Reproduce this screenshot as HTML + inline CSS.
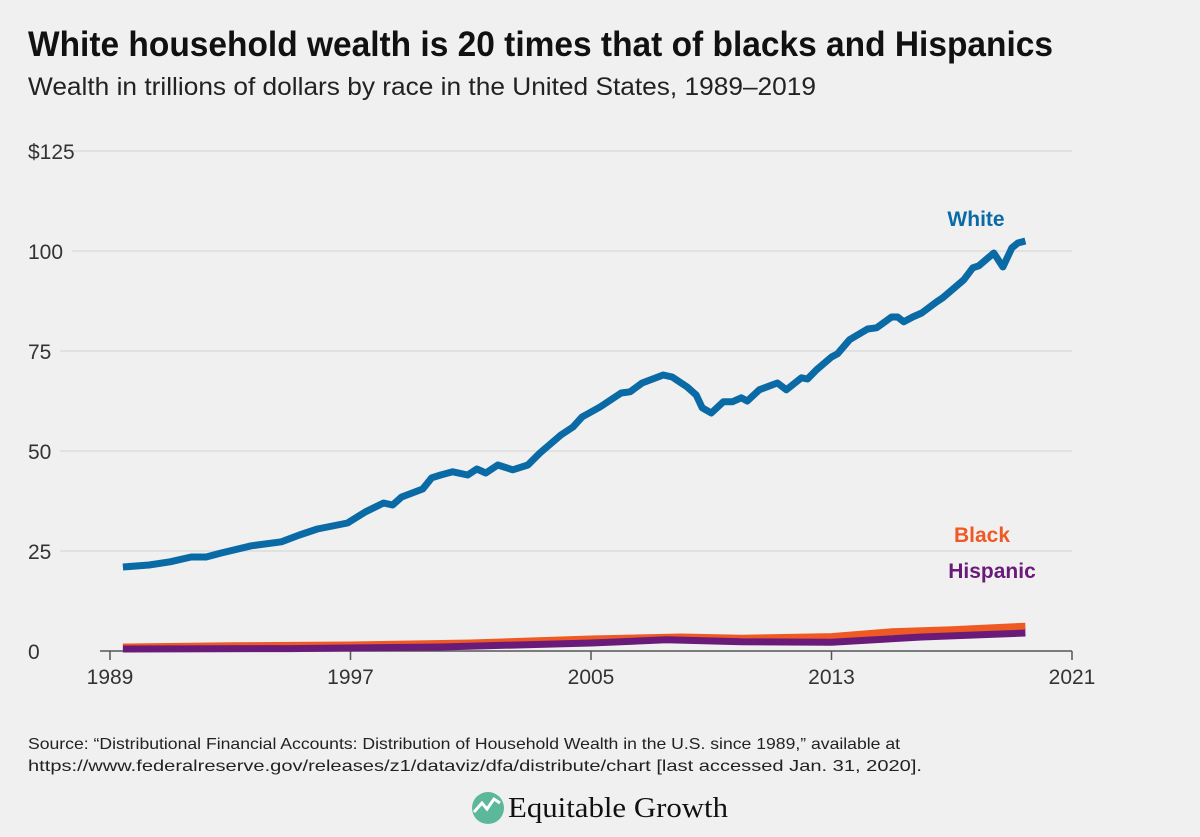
<!DOCTYPE html>
<html><head><meta charset="utf-8"><style>
html,body{margin:0;padding:0;background:#f0f0f0;}
svg{display:block;font-family:"Liberation Sans",sans-serif;}
</style></head><body>
<svg id="chart" width="1200" height="837" viewBox="0 0 1200 837">
<rect width="1200" height="837" fill="#f0f0f0"/>
<text x="28" y="56" font-size="35" font-weight="bold" fill="#111" textLength="1025" lengthAdjust="spacingAndGlyphs">White household wealth is 20 times that of blacks and Hispanics</text>
<text x="28" y="95" font-size="25" fill="#222" textLength="788" lengthAdjust="spacingAndGlyphs">Wealth in trillions of dollars by race in the United States, 1989–2019</text>
<g id="grid"></g>
<g id="series"></g>
<text x="976" y="226" font-size="21" font-weight="bold" fill="#0a6aa6" text-anchor="middle">White</text>
<text x="982" y="542" font-size="21" font-weight="bold" fill="#ef5a24" text-anchor="middle">Black</text>
<text x="992" y="578" font-size="21" font-weight="bold" fill="#6a1b7a" text-anchor="middle">Hispanic</text>
<text x="28" y="749" font-size="16" fill="#222" textLength="872" lengthAdjust="spacingAndGlyphs">Source: “Distributional Financial Accounts: Distribution of Household Wealth in the U.S. since 1989,” available at</text>
<text x="28" y="771" font-size="16" fill="#222" textLength="894" lengthAdjust="spacingAndGlyphs">https://www.federalreserve.gov/releases/z1/dataviz/dfa/distribute/chart [last accessed Jan. 31, 2020].</text>
<g>
<circle cx="488" cy="808" r="16" fill="#5cb89a"/>
<path d="M474 812 L482 803 L487 809 L494 799 L500 803" stroke="#fff" stroke-width="3" fill="none"/>
<text x="508" y="817" font-family="Liberation Serif,serif" font-size="29" fill="#111" textLength="220" lengthAdjust="spacingAndGlyphs">Equitable Growth</text>
</g>
</svg>
<script>
const yTicks=[0,25,50,75,100,125];
const yTickLabels=["0","25","50","75","100","$125"];
const xTicks=[1989,1997,2005,2013,2021];
const whiteYears=[1989.43,1990.3,1991,1991.7,1992.2,1992.7,1993.7,1994.7,1995.3,1995.9,1996.9,1997.5,1998.1,1998.4,1998.7,1999.4,1999.7,2000,2000.4,2000.9,2001.2,2001.5,2001.9,2002.4,2002.9,2003.3,2004,2004.4,2004.7,2005.3,2006,2006.3,2006.7,2007.4,2007.7,2008.2,2008.5,2008.7,2009,2009.4,2009.7,2010,2010.2,2010.6,2011.2,2011.5,2012,2012.2,2012.5,2013,2013.2,2013.6,2014.2,2014.5,2015,2015.2,2015.4,2015.7,2016,2016.5,2016.7,2017.4,2017.7,2017.9,2018.4,2018.7,2019,2019.2,2019.45];
const whiteValues=[21,21.5,22.3,23.5,23.5,24.5,26.3,27.3,29,30.5,32,34.8,37,36.5,38.5,40.5,43.3,44,44.8,44,45.5,44.5,46.5,45.3,46.5,49.5,54,56,58.5,61,64.5,64.8,67,69,68.5,66,64,60.8,59.5,62.3,62.3,63.3,62.5,65.3,67,65.3,68.3,68,70.3,73.5,74.3,77.8,80.5,80.8,83.5,83.5,82.3,83.5,84.5,87.3,88.3,92.8,95.8,96.3,99.5,96,100.8,102,102.5];
const blackYears=[1989.43,1993,1997,2001,2005,2008,2010,2013,2015,2017,2019.45];
const blackValues=[1.0,1.3,1.5,2.0,3.0,3.5,3.2,3.6,4.8,5.3,6.2];
const hispYears=[1989.43,1995,2000,2005,2007.5,2010,2013,2016,2019.45];
const hispValues=[0.5,0.6,1.0,2.0,2.8,2.3,2.2,3.5,4.5];

const NS="http://www.w3.org/2000/svg";
const xS=y=>110+(y-1989)*(1072-110)/32;
const yS=v=>651-v*4;
const grid=document.getElementById('grid');
yTicks.forEach((t,i)=>{
  const l=document.createElementNS(NS,'line');
  l.setAttribute('x1',i===0?100:(i===5?72:(i===4?72:60)));l.setAttribute('x2',1072);
  l.setAttribute('y1',yS(t));l.setAttribute('y2',yS(t));
  l.setAttribute('stroke',t===0?'#555':'#dcdcdc');l.setAttribute('stroke-width',t===0?1.5:1.5);
  
  
  grid.appendChild(l);
  const tx=document.createElementNS(NS,'text');
  tx.setAttribute('x',28);tx.setAttribute('y',yS(t)+8);
  tx.setAttribute('font-size','21');tx.setAttribute('fill','#333');
  tx.textContent=yTickLabels[i];
  
  
  grid.appendChild(tx);
});
xTicks.forEach(t=>{
  const l=document.createElementNS(NS,'line');
  l.setAttribute('x1',xS(t));l.setAttribute('x2',xS(t));
  l.setAttribute('y1',651);l.setAttribute('y2',660);
  l.setAttribute('stroke','#555');l.setAttribute('stroke-width',1.5);
  
  
  grid.appendChild(l);
  const tx=document.createElementNS(NS,'text');
  tx.setAttribute('x',xS(t));tx.setAttribute('y',684);
  tx.setAttribute('font-size','21');tx.setAttribute('fill','#333');tx.setAttribute('text-anchor','middle');
  tx.textContent=t;
  
  
  grid.appendChild(tx);
});
const ser=document.getElementById('series');
function draw(xs,vs,color,name){
  const p=document.createElementNS(NS,'path');
  p.setAttribute('d',xs.map((x,i)=>(i?'L':'M')+xS(x).toFixed(1)+' '+yS(vs[i]).toFixed(1)).join(' '));
  p.setAttribute('stroke',color);p.setAttribute('stroke-width',7);p.setAttribute('fill','none');
  p.setAttribute('stroke-linejoin','round');
  
  
  ser.appendChild(p);
}
draw(blackYears,blackValues,'#ef5a24','line-black');
draw(hispYears,hispValues,'#6a1b7a','line-hispanic');
draw(whiteYears,whiteValues,'#0a6aa6','line-white');
</script>
</body></html>
